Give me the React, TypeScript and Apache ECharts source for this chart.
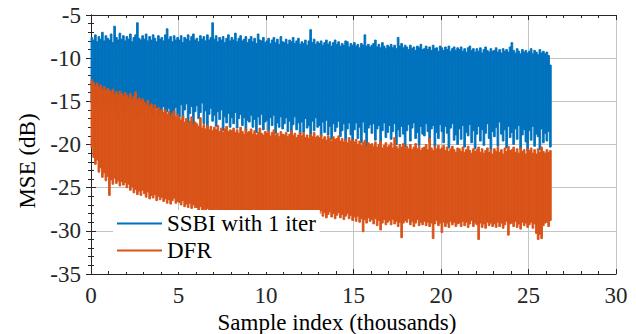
import React, { useEffect, useRef } from "react";
import * as echarts from "echarts";

// Sample positions (thousands): bin centres start at 0.05, step 0.1
const sampleStart = 0.05;
const sampleStep = 0.1;

const xTicks = [0, 5, 10, 15, 20, 25, 30];
const yTicks = [-35, -30, -25, -20, -15, -10, -5];
const seriesNames = ["SSBI with 1 iter", "DFR"];

// SSBI with 1 iter: upper / lower envelope per 0.1k bin (dB)
const ssbiHi = [
  -7.6,-7.9,-7.3,-8.1,-7.5,-7.8,-7.0,-8.0,-7.4,-7.7,
  -7.9,-7.2,-8.2,-6.3,-7.6,-7.9,-7.1,-7.8,-7.4,-8.0,
  -7.5,-7.8,-7.2,-8.1,-7.6,-7.3,-5.9,-7.7,-7.9,-7.4,
  -7.8,-7.2,-8.0,-7.5,-7.9,-7.3,-7.7,-8.1,-7.4,-7.8,
  -7.6,-8.0,-7.3,-6.6,-7.8,-7.5,-8.1,-7.4,-7.9,-7.6,
  -7.9,-7.4,-8.2,-7.6,-7.8,-7.3,-8.0,-7.5,-7.2,-7.9,
  -7.7,-8.1,-7.4,-7.8,-7.5,-8.0,-7.3,-7.9,-7.6,-5.9,
  -7.8,-7.4,-8.1,-7.6,-7.9,-7.5,-8.2,-7.7,-7.3,-8.0,
  -7.6,-7.9,-7.1,-8.1,-7.7,-7.4,-8.0,-7.8,-7.5,-8.2,
  -7.8,-7.5,-8.1,-7.7,-8.3,-7.2,-7.9,-8.0,-7.6,-8.2,
  -8.0,-7.7,-8.3,-7.9,-7.6,-8.2,-7.8,-8.4,-7.5,-8.1,
  -8.2,-7.8,-8.4,-7.9,-8.1,-7.6,-8.3,-8.0,-7.7,-8.4,
  -8.1,-8.3,-7.9,-8.5,-8.0,-6.7,-8.2,-7.8,-8.4,-8.1,
  -8.3,-8.0,-8.5,-8.2,-7.9,-8.4,-8.1,-8.6,-8.2,-7.9,
  -8.4,-8.1,-8.6,-8.3,-8.5,-8.0,-8.1,-8.7,-8.3,-8.5,
  -8.2,-8.6,-8.4,-8.8,-8.3,-8.5,-7.3,-8.6,-8.4,-8.7,
  -8.5,-8.3,-7.9,-8.7,-8.4,-8.8,-8.2,-8.6,-8.9,-8.5,
  -8.7,-8.4,-8.8,-8.5,-8.9,-7.6,-8.6,-8.3,-8.8,-8.5,
  -8.7,-9.0,-8.5,-8.9,-8.7,-9.1,-8.6,-8.8,-8.4,-9.0,
  -8.9,-8.6,-9.0,-8.7,-9.1,-8.5,-8.9,-8.8,-9.2,-8.6,
  -8.8,-9.1,-8.7,-9.0,-8.6,-9.2,-8.9,-8.7,-9.1,-8.8,
  -9.0,-8.7,-9.2,-8.9,-9.3,-8.8,-8.6,-9.1,-8.9,-9.3,
  -8.9,-9.2,-8.8,-9.4,-9.0,-8.7,-9.1,-9.3,-8.9,-9.2,
  -9.1,-8.8,-9.3,-9.0,-9.4,-8.9,-9.2,-9.0,-9.3,-8.7,
  -8.2,-9.1,-9.4,-8.9,-9.2,-9.5,-9.0,-9.3,-9.1,-9.4,
  -9.2,-8.9,-9.5,-9.1,-9.3,-9.6,-9.0,-9.4,-9.2,-9.5,
  -9.3,-9.7,-10.8,
];
const ssbiLo = [
  -15.2,-15.8,-15.4,-16.1,-15.6,-16.3,-15.7,-16.0,-15.5,-16.2,
  -15.8,-16.4,-15.9,-16.2,-15.6,-16.5,-16.0,-16.3,-15.7,-16.4,
  -16.1,-15.7,-16.5,-16.0,-16.6,-15.9,-16.3,-16.7,-16.1,-16.4,
  -16.0,-15.5,-16.6,-16.2,-15.3,-16.8,-16.1,-15.8,-16.9,-16.3,
  -16.4,-15.6,-17.0,-16.2,-15.8,-16.9,-16.3,-17.3,-15.7,-16.6,
  -16.8,-15.4,-17.2,-16.0,-15.3,-17.5,-16.4,-15.6,-17.8,-16.2,
  -15.5,-17.0,-16.3,-15.2,-17.6,-16.1,-18.2,-16.5,-15.8,-17.3,
  -16.6,-17.9,-16.2,-17.1,-16.0,-18.4,-16.8,-17.5,-16.4,-18.0,
  -16.9,-17.6,-16.3,-18.1,-17.0,-16.5,-17.8,-16.9,-18.5,-17.2,
  -17.4,-16.6,-18.0,-17.1,-18.6,-16.8,-17.7,-16.5,-18.3,-17.4,
  -17.2,-18.4,-16.9,-17.8,-16.6,-18.7,-17.5,-18.0,-16.8,-18.2,
  -17.6,-16.9,-18.5,-17.3,-19.0,-17.7,-16.8,-18.3,-17.5,-18.8,
  -17.4,-18.6,-17.0,-18.1,-17.8,-19.2,-17.3,-18.4,-16.9,-18.0,
  -17.8,-19.0,-17.4,-18.6,-17.2,-18.9,-17.9,-19.4,-17.6,-18.5,
  -18.0,-17.3,-19.1,-18.4,-17.6,-19.6,-18.2,-17.5,-18.9,-20.1,
  -18.3,-17.5,-19.3,-18.0,-19.8,-17.4,-18.6,-20.2,-18.1,-17.7,
  -18.7,-17.6,-19.5,-18.2,-17.8,-19.9,-18.4,-17.5,-19.2,-18.6,
  -17.8,-19.4,-18.5,-17.6,-20.0,-18.3,-19.1,-17.9,-18.8,-20.3,
  -18.4,-17.7,-19.6,-18.1,-17.5,-19.3,-18.6,-20.1,-17.9,-18.8,
  -19.0,-17.6,-18.5,-19.7,-18.2,-17.8,-20.2,-18.6,-19.3,-17.7,
  -18.5,-19.8,-17.9,-18.7,-20.4,-18.1,-17.6,-19.5,-18.9,-20.0,
  -18.2,-19.4,-17.8,-20.3,-18.6,-19.0,-17.7,-19.8,-18.4,-20.5,
  -18.8,-17.9,-19.6,-18.3,-20.1,-18.7,-17.6,-19.3,-20.6,-18.5,
  -19.1,-18.0,-20.2,-17.4,-18.8,-19.6,-18.3,-20.4,-17.9,-19.2,
  -18.6,-20.0,-18.2,-19.4,-17.8,-20.5,-18.9,-18.3,-19.7,-20.7,
  -18.4,-19.5,-17.9,-20.2,-18.8,-19.1,-20.6,-18.2,-19.8,-18.7,
  -19.6,-18.5,-20.3,
];

// DFR: upper / lower envelope per 0.1k bin (dB)
const dfrHi = [
  -12.5,-12.8,-13.2,-12.9,-13.4,-13.1,-13.6,-13.3,-13.8,-13.5,
  -13.7,-14.0,-13.6,-14.2,-13.9,-14.3,-13.8,-14.1,-14.4,-14.0,
  -14.3,-14.6,-14.1,-14.8,-14.4,-13.9,-14.9,-14.6,-15.0,-14.7,
  -15.1,-15.4,-14.9,-15.6,-15.3,-15.8,-15.4,-16.0,-15.7,-16.1,
  -15.9,-16.3,-16.0,-16.5,-16.2,-16.7,-16.4,-16.1,-16.8,-16.5,
  -16.9,-17.2,-16.7,-17.4,-17.0,-17.6,-17.3,-16.8,-17.7,-17.4,
  -17.6,-17.9,-16.9,-18.1,-17.7,-18.2,-17.8,-18.3,-17.9,-18.4,
  -18.0,-18.3,-17.8,-18.5,-18.1,-18.6,-18.2,-17.9,-18.5,-18.3,
  -18.4,-18.1,-18.6,-18.3,-18.7,-18.0,-18.5,-18.8,-18.2,-18.6,
  -18.5,-18.2,-18.8,-18.4,-18.9,-18.6,-18.1,-18.7,-18.9,-18.5,
  -18.7,-18.4,-19.0,-18.6,-18.3,-18.9,-18.7,-19.1,-18.5,-18.8,
  -18.9,-18.6,-19.1,-18.8,-18.4,-19.0,-18.7,-19.2,-18.9,-18.6,
  -19.0,-18.7,-19.2,-18.9,-19.3,-18.8,-19.1,-18.6,-19.2,-19.0,
  -19.2,-18.9,-19.4,-19.1,-19.5,-19.0,-19.3,-19.6,-19.1,-19.4,
  -19.3,-19.0,-19.6,-19.3,-19.7,-19.4,-19.8,-19.2,-19.6,-19.5,
  -19.7,-19.4,-20.0,-19.6,-20.1,-19.8,-19.5,-20.2,-19.8,-20.0,
  -19.9,-20.2,-19.7,-20.3,-20.0,-19.6,-20.4,-20.1,-19.8,-20.3,
  -20.1,-19.8,-20.4,-19.2,-20.2,-20.5,-20.0,-20.3,-19.9,-20.4,
  -20.2,-20.5,-20.0,-20.6,-20.3,-19.9,-20.5,-20.2,-20.7,-20.4,
  -20.3,-20.0,-20.6,-19.3,-20.4,-20.7,-20.2,-20.5,-20.1,-20.6,
  -20.4,-20.1,-20.7,-20.3,-20.8,-20.5,-20.2,-20.6,-20.9,-20.4,
  -20.5,-20.8,-20.3,-20.9,-20.6,-20.2,-20.7,-21.0,-20.5,-20.8,
  -20.6,-20.3,-20.9,-20.5,-21.0,-20.7,-20.4,-20.9,-20.6,-21.1,
  -20.5,-20.8,-20.3,-20.9,-20.6,-21.1,-20.4,-20.8,-20.2,-20.7,
  -20.6,-20.3,-20.9,-20.5,-21.0,-20.4,-20.8,-20.6,-21.1,-20.5,
  -20.7,-20.4,-21.0,-20.6,-21.1,-20.5,-20.9,-20.3,-20.8,-21.0,
  -20.6,-20.9,-20.7,
];
const dfrLo = [
  -20.4,-21.5,-22.3,-21.8,-23.2,-22.7,-23.8,-23.3,-24.2,-23.7,
  -25.9,-24.1,-24.6,-23.9,-24.5,-24.2,-24.8,-24.3,-24.7,-24.4,
  -25.0,-24.6,-25.3,-24.9,-25.6,-25.2,-25.8,-25.4,-25.9,-25.3,
  -25.7,-26.1,-25.5,-26.3,-25.9,-26.2,-25.8,-26.5,-26.0,-26.4,
  -26.1,-26.6,-26.3,-26.8,-26.4,-26.9,-26.5,-26.2,-26.8,-26.6,
  -26.7,-27.0,-26.5,-27.2,-26.9,-27.3,-26.8,-27.4,-27.0,-27.3,
  -27.3,-27.6,-27.2,-27.8,-27.5,-27.9,-27.4,-27.7,-28.0,-27.6,
  -27.8,-27.5,-28.1,-27.7,-28.2,-27.9,-27.6,-28.3,-27.9,-28.1,
  -28.0,-27.7,-28.3,-27.9,-28.4,-28.1,-27.8,-28.5,-28.0,-28.2,
  -28.1,-28.4,-27.9,-28.5,-28.2,-28.6,-28.0,-28.4,-28.7,-28.3,
  -28.2,-28.5,-28.0,-28.6,-28.3,-28.8,-28.1,-28.5,-28.7,-28.4,
  -28.3,-28.6,-28.1,-28.7,-28.4,-28.9,-28.2,-28.6,-28.8,-28.5,
  -28.4,-28.7,-28.2,-28.8,-28.5,-29.0,-28.3,-28.7,-28.9,-28.6,
  -28.0,-27.7,-28.3,-27.9,-28.5,-28.1,-27.8,-28.4,-28.0,-28.6,
  -28.2,-27.9,-28.5,-28.1,-28.7,-28.3,-28.0,-28.6,-28.2,-28.8,
  -28.4,-28.9,-28.3,-29.0,-28.6,-30.1,-28.7,-29.1,-28.5,-28.9,
  -28.7,-29.2,-28.6,-29.4,-28.8,-29.9,-29.1,-28.7,-29.3,-29.0,
  -28.8,-29.3,-28.7,-29.2,-28.9,-29.5,-29.0,-30.8,-29.1,-28.8,
  -29.0,-28.6,-29.3,-28.9,-29.5,-29.1,-28.7,-29.4,-29.0,-29.3,
  -28.9,-29.4,-29.0,-29.5,-29.1,-30.9,-29.2,-28.8,-29.4,-29.1,
  -30.2,-29.0,-29.5,-29.1,-29.6,-28.9,-29.3,-29.0,-29.5,-29.2,
  -29.1,-29.5,-28.9,-29.4,-29.0,-29.6,-29.2,-28.8,-29.5,-29.1,
  -29.3,-31.0,-29.1,-29.6,-29.2,-29.7,-29.0,-29.4,-29.1,-29.5,
  -29.2,-29.6,-29.0,-29.5,-29.1,-29.7,-29.3,-28.9,-30.5,-29.2,
  -29.1,-29.5,-28.9,-29.6,-29.2,-29.8,-29.0,-29.4,-29.1,-29.6,
  -29.3,-29.0,-29.7,-29.2,-30.3,-31.0,-30.4,-30.9,-29.4,-29.1,
  -29.0,-29.5,-28.8,
];

const BLUE = "#0072BD";
const ORANGE = "#D95319";
const FONT = "Liberation Serif";
const AXIS_COLOR = "#262626";

function bins(hi: number[], lo: number[]) {
  return hi.map((h, i) => [sampleStart + i * sampleStep, lo[i], h]);
}

function bandSeries(name: string, color: string, hi: number[], lo: number[], z: number) {
  return {
    type: "custom",
    name,
    z,
    itemStyle: { color },
    encode: { x: 0, y: [1, 2] },
    data: bins(hi, lo),
    renderItem: (_params: any, api: any) => {
      const x = api.value(0);
      const l = api.value(1);
      const h = api.value(2);
      const p1 = api.coord([x - sampleStep / 2, h]);
      const p2 = api.coord([x + sampleStep / 2, l]);
      return {
        type: "rect",
        shape: { x: p1[0], y: p1[1], width: p2[0] - p1[0], height: p2[1] - p1[1] },
        style: { fill: color, stroke: color, lineWidth: 0.9 },
      };
    },
  };
}

export default function App() {
  const ref = useRef<HTMLDivElement>(null);
  useEffect(() => {
    if (!ref.current) return;
    const chart = echarts.init(ref.current, null, { renderer: "svg" });
    const tickCommon = {
      axisLine: { show: true, lineStyle: { color: AXIS_COLOR, width: 1 } },
      axisTick: { show: true, inside: true, length: 5, lineStyle: { color: AXIS_COLOR } },
      minorTick: { show: true, splitNumber: 5, length: 3, lineStyle: { color: AXIS_COLOR } },
    };
    const makeLabel = () => ({
      show: true,
      fontSize: 23,
      fontFamily: FONT,
      fontWeight: "normal",
      color: AXIS_COLOR,
      margin: 10,
    });
    chart.setOption({
      animation: false,
      backgroundColor: "#fff",
      textStyle: { fontFamily: FONT, fontSize: 23 },
      grid: { left: 91, right: 20, top: 15, bottom: 60 },
      xAxis: [
        {
          type: "value",
          min: xTicks[0],
          max: xTicks[xTicks.length - 1],
          interval: 5,
          position: "bottom",
          ...tickCommon,
          splitLine: { show: true, lineStyle: { color: "#c4c4c4", width: 1 } },
          axisLabel: makeLabel(),
        },
        {
          type: "value",
          min: xTicks[0],
          max: xTicks[xTicks.length - 1],
          interval: 5,
          position: "top",
          ...tickCommon,
          splitLine: { show: false },
          axisLabel: { show: false },
        },
      ],
      yAxis: [
        {
          type: "value",
          min: yTicks[0],
          max: yTicks[yTicks.length - 1],
          interval: 5,
          position: "left",
          ...tickCommon,
          splitLine: { show: true, lineStyle: { color: "#c4c4c4", width: 1 } },
          axisLabel: makeLabel(),
        },
        {
          type: "value",
          min: yTicks[0],
          max: yTicks[yTicks.length - 1],
          interval: 5,
          position: "right",
          ...tickCommon,
          splitLine: { show: false },
          axisLabel: { show: false },
        },
      ],
      legend: {
        orient: "vertical",
        left: 113,
        top: 210,
        backgroundColor: "#fff",
        padding: [2, 4, 10, 4],
        itemGap: 4,
        itemWidth: 45,
        itemHeight: 2,
        icon: "rect",
        textStyle: { fontSize: 23, fontFamily: FONT, color: "#000" },
        data: [
          { name: seriesNames[0], itemStyle: { color: BLUE }, textStyle: { fontFamily: FONT, fontSize: 23 } },
          { name: seriesNames[1], itemStyle: { color: ORANGE }, textStyle: { fontFamily: FONT, fontSize: 23 } },
        ],
      },
      graphic: [
        {
          type: "text",
          x: 337,
          y: 322,
          style: {
            text: "Sample index (thousands)",
            fontSize: 23,
            fontFamily: FONT,
            fill: "#000",
            align: "center",
            verticalAlign: "middle",
          },
        },
        {
          type: "text",
          x: 27,
          y: 161,
          rotation: Math.PI / 2,
          style: {
            text: "MSE (dB)",
            fontSize: 23,
            fontFamily: FONT,
            fill: "#000",
            align: "center",
            verticalAlign: "middle",
          },
        },
      ],
      series: [
        bandSeries(seriesNames[0], BLUE, ssbiHi, ssbiLo, 2),
        bandSeries(seriesNames[1], ORANGE, dfrHi, dfrLo, 3),
      ],
    });
    return () => chart.dispose();
  }, []);
  return (
    <div
      ref={ref}
      style={{ position: "absolute", left: 0, top: 0, width: 636, height: 334 }}
    />
  );
}
